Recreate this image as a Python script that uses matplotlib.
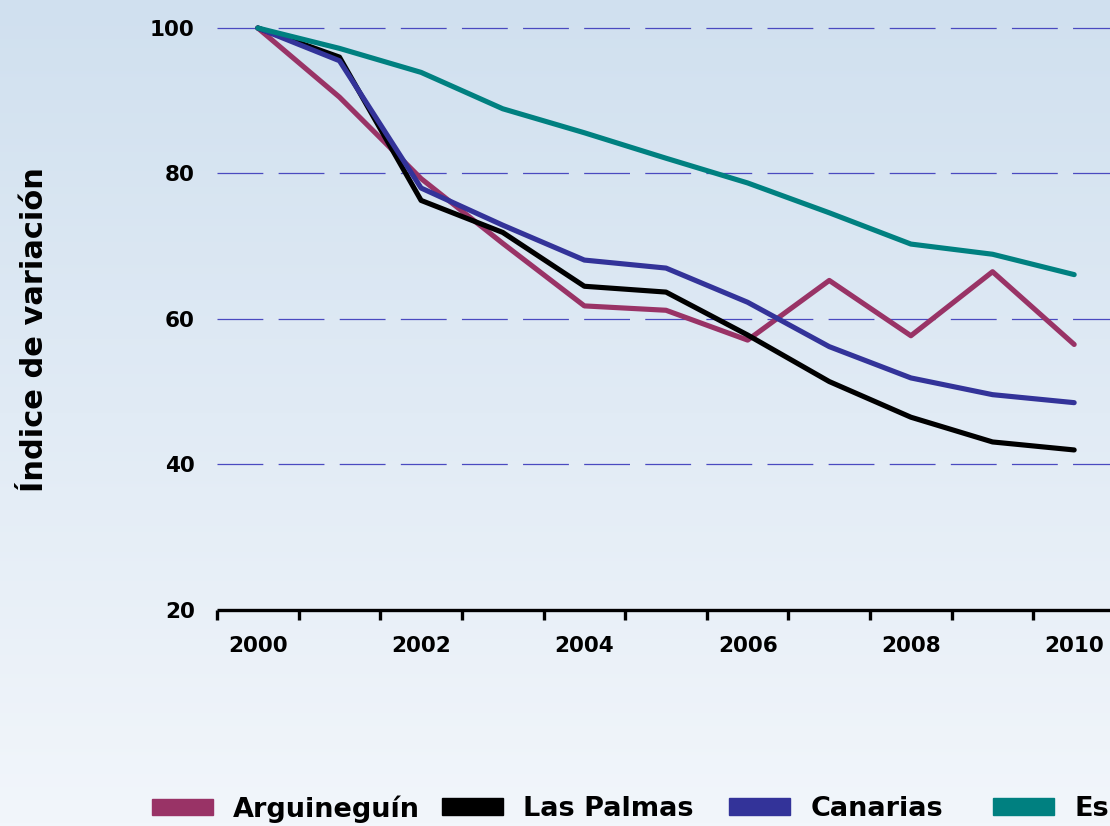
import matplotlib
matplotlib.use("Agg")
import matplotlib.pyplot as plt
import numpy as np

# --- data ---
years = ["2000", "2001", "2002", "2003", "2004", "2005",
         "2006", "2007", "2008", "2009", "2010"]
arguineguin = [100, 90.5, 79.3, 70.4, 61.8, 61.2, 57.1, 65.3, 57.7, 66.5, 56.5]
las_palmas = [100, 96.0, 76.3, 71.9, 64.5, 63.7, 57.8, 51.4, 46.5, 43.1, 42.0]
canarias = [100, 95.5, 78.0, 72.9, 68.1, 67.0, 62.3, 56.2, 51.9, 49.6, 48.5]
espana = [100, 97.2, 93.9, 88.9, 85.6, 82.1, 78.7, 74.6, 70.3, 68.9, 66.1]

series = [
    ("Arguineguín", arguineguin, "#993366"),
    ("Las Palmas", las_palmas, "#000000"),
    ("Canarias", canarias, "#333399"),
    ("España", espana, "#008080"),
]
# left edge (px) of each legend key, as laid out in the reference
legend_x = [152, 442, 729, 993]

plt.rcParams["font.family"] = ["DejaVu Sans"]
plt.rcParams["font.weight"] = "bold"
plt.rcParams["lines.scale_dashes"] = False

W, H = 1110, 826
fig = plt.figure(figsize=(W / 100, H / 100), dpi=100)

# background gradient
bg = fig.add_axes([0, 0, 1, 1], zorder=-10)
top = np.array([208, 224, 239]) / 255
bot = np.array([242, 246, 251]) / 255
t = np.linspace(0, 1, 256)[:, None]
grad = (top * (1 - t) + bot * t)[:, None, :]
bg.imshow(grad, aspect="auto", extent=[0, 1, 0, 1])
bg.set_axis_off()

ax = fig.add_axes([217 / W, 216 / H, 898 / W, (610 - 28) / H])
ax.set_facecolor("none")

x = np.arange(len(years))
for name, vals, col in series:
    ax.plot(x, vals, color=col, lw=3.7, solid_capstyle="round",
            label=name, clip_on=False, zorder=3)

ax.set_xlim(-0.5, len(years) - 0.5)
ax.set_ylim(20, 100)

# dashed grid
for g in [40, 60, 80, 100]:
    ax.axhline(g, color="#4a4ac0", lw=0.9, ls=(0, (33, 11)), zorder=1,
               clip_on=False)

for s in ["left", "right", "top"]:
    ax.spines[s].set_visible(False)
ax.spines["bottom"].set_linewidth(2.4)
ax.spines["bottom"].set_capstyle("butt")

ax.set_yticks([20, 40, 60, 80, 100])
ax.tick_params(axis="y", length=0, pad=16, labelsize=15.5)

ax.set_xticks(x[::2])
ax.set_xticklabels(years[::2])
ax.set_xticks(np.arange(-0.5, len(years), 1), minor=True)
ax.tick_params(axis="x", which="major", length=0, pad=19, labelsize=15.5)
ax.tick_params(axis="x", which="minor", length=7, width=2.4,
               direction="out", color="black")

fig.text(35 / W, 1 - 330 / H, "Índice de variación",
         rotation=90, ha="center", va="center", fontsize=22,
         fontweight="bold")

# legend, one key per entry so the spacing follows the reference
for (name, _, col), lx in zip(series, legend_x):
    fig.legend(handles=[plt.Rectangle((0, 0), 1, 1, color=col)],
               labels=[name], loc="center left",
               bbox_to_anchor=(lx / W, 17 / H), frameon=False,
               fontsize=19.5, borderpad=0, borderaxespad=0,
               handlelength=2.25, handleheight=0.55, handletextpad=0.75)

fig.savefig("out.png", dpi=100)
